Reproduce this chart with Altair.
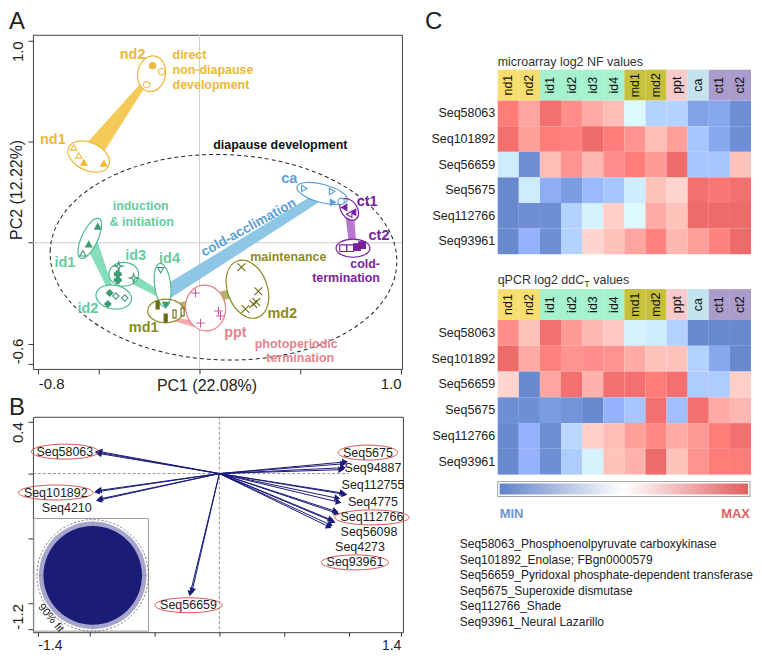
import math
import altair as alt
import pandas as pd

FONT = "Liberation Sans"
INK = "#222222"

# ======================= Panel A : PCA of samples =======================
A_W, A_H = 370, 335
A_XDOM = [-0.827, 1.005]
A_YDOM = [-0.625, 1.030]
PX_A = A_W / (A_XDOM[1] - A_XDOM[0])

fam_of = {"nd1": "nd", "nd2": "nd", "id1": "id", "id2": "id", "id3": "id", "id4": "id",
          "md1": "md", "md2": "md", "ppt": "ppt", "ca": "ca", "ct1": "ct", "ct2": "ct"}
FAM_TEXT = {"nd": "#EDB838", "id": "#66CC9E", "md": "#8C8C22", "ppt": "#E8838C", "ca": "#5A9FD4", "ct": "#7A1FA0", "all": "#111111"}
FAM_LINE = {"nd": "#EDB838", "id": "#4DBB8F", "md": "#8A8A1F", "ppt": "#E57F88", "ca": "#5A9FD4", "ct": "#7A1FA0"}
FAM_BAND = {"nd": "#F4CB58", "id": "#86DDB9", "md": "#B4B26C", "ppt": "#F2AAB0", "ca": "#8EC7E6", "ct": "#B678CE"}
FAM_MARK = {"nd": "#EDB838", "id": "#3E9A73", "md": "#6B6B12", "ppt": "#C2609C", "ca": "#5A9FD4", "ct": "#7A1FA0"}

# replicate samples
pt_group = (["nd2"] * 3 + ["nd1"] * 4 + ["id1"] * 3 + ["id2"] * 4 + ["id3"] * 4 + ["id4"] * 2 +
            ["md1"] * 4 + ["ppt"] * 4 + ["md2"] * 5 + ["ca"] * 4 + ["ct1"] * 3 + ["ct2"] * 4)
pt_marker = (["circle"] * 3 + ["tri-up"] * 4 + ["tri-up"] * 3 + ["diamond"] * 4 +
             ["star", "star", "cross", "cross"] + ["tri-down"] * 2 + ["bar"] * 4 + ["plus"] * 4 +
             ["x"] * 5 + ["tri-right"] * 3 + ["circle"] + ["tri-left"] * 3 + ["square"] * 4)
pt_filled = [1, 0, 0, 0, 0, 1, 1, 1, 1, 0, 1, 1, 0, 0, 0, 0, 1, 1, 0, 1,
             1, 1, 0, 0, 1, 1, 1, 1, 1, 1, 1, 1, 1, 0, 0, 1, 0, 1, 1, 0, 0, 0, 1, 1]
pt_pc1 = [-0.233, -0.188, -0.262, -0.624, -0.599, -0.574, -0.475, -0.505, -0.550, -0.579,
          -0.446, -0.455, -0.416, -0.371, -0.401, -0.327, -0.406, -0.406, -0.193, -0.168,
          -0.208, -0.168, -0.124, -0.084, -0.020, 0.094, 0.104, 0.005,
          0.208, 0.292, 0.228, 0.267, 0.282, 0.520, 0.658, 0.663, 0.703,
          0.718, 0.762, 0.743, 0.713, 0.748, 0.782, 0.807]
pt_pc2 = [0.877, 0.847, 0.783, 0.472, 0.432, 0.398, 0.393, 0.081, -0.007, -0.052,
          -0.249, -0.304, -0.264, -0.274, -0.116, -0.175, -0.156, -0.185, -0.136, -0.309,
          -0.309, -0.373, -0.353, -0.343, -0.249, -0.338, -0.363, -0.398,
          -0.121, -0.240, -0.328, -0.304, -0.294, 0.269, 0.254, 0.200, 0.205,
          0.175, 0.151, 0.141, -0.027, -0.027, -0.022, -0.012]

# confidence ellipses of each stage (centre, semi-axes in PC units, rotation)
ell_group = ["nd2", "nd1", "id1", "id2", "id3", "id4", "md1", "ppt", "md2", "ca", "ct1", "ct2"]
ell_pc1 = [-0.238, -0.550, -0.545, -0.426, -0.376, -0.183, -0.168, 0.030, 0.238, 0.609, 0.743, 0.762]
ell_pc2 = [0.837, 0.427, 0.022, -0.269, -0.156, -0.210, -0.338, -0.323, -0.230, 0.244, 0.165, -0.027]
ell_a = [0.089, 0.109, 0.109, 0.089, 0.074, 0.109, 0.089, 0.114, 0.149, 0.129, 0.059, 0.084]
ell_b = [0.069, 0.069, 0.040, 0.059, 0.059, 0.040, 0.059, 0.099, 0.099, 0.045, 0.040, 0.045]
ell_angle = [280, 25, 295, 10, 0, 83, 0, 80, 70, 15, 55, 0]

# diapause development envelope
dia_pc1, dia_pc2, dia_a, dia_b, dia_angle = 0.119, -0.072, 0.861, 0.510, 2

# trajectories between stages
band_fam = ["nd", "id", "id", "ca", "md", "ppt", "ct"]
band_x0 = [-0.550, -0.545, -0.376, -0.170, -0.168, -0.130, 0.743]
band_y0 = [0.427, 0.022, -0.156, -0.250, -0.338, -0.380, 0.165]
band_x1 = [-0.238, -0.426, -0.190, 0.600, 0.238, 0.020, 0.762]
band_y1 = [0.837, -0.269, -0.260, 0.232, -0.230, -0.410, -0.027]
band_w0 = [21, 13, 10, 14, 9, 3, 9]
band_w1 = [3, 4, 6, 9, 9, 8, 7]

# text annotations (label, pc1, pc2, family, font size, alignment)
lab_text = ["nd2", "nd1", "diapause development", "induction", "& initiation", "id1", "id2", "id3", "id4",
            "md1", "ppt", "photoperiodic", "termination", "md2", "maintenance", "ca", "ct1", "ct2",
            "direct", "non-diapause", "development", "cold-", "termination"]
lab_pc1 = [-0.332, -0.728, 0.401, -0.292, -0.287, -0.668, -0.554, -0.317, -0.149,
           -0.277, 0.178, 0.480, 0.500, 0.411, 0.441, 0.446, 0.832, 0.891,
           -0.134, -0.134, -0.134, 0.896, 0.896]
lab_pc2 = [0.931, 0.511, 0.486, 0.180, 0.101, -0.101, -0.328, -0.067, -0.081,
           -0.422, -0.447, -0.501, -0.570, -0.353, -0.072, 0.314, 0.200, 0.032,
           0.931, 0.857, 0.783, -0.106, -0.175]
lab_fam = ["nd", "nd", "all", "id", "id", "id", "id", "id", "id",
           "md", "ppt", "ppt", "ppt", "md", "md", "ca", "ct", "ct",
           "nd", "nd", "nd", "ct", "ct"]
lab_big = [1, 1, 0, 0, 0, 1, 1, 1, 1, 1, 1, 0, 0, 1, 0, 1, 1, 1, 0, 0, 0, 0, 0]
lab_align = ["center"] * 18 + ["left"] * 3 + ["right"] * 2
rot_text, rot_pc1, rot_pc2, rot_angle = "cold-acclimation", 0.243, 0.075, 331

SHAPE = {
    "circle": "circle", "tri-up": "triangle-up", "tri-down": "triangle-down",
    "tri-left": "triangle-left", "tri-right": "triangle-right", "diamond": "diamond",
    "square": "square", "cross": "cross",
    "star": "M0,-1L0.22,-0.22L1,0L0.22,0.22L0,1L-0.22,0.22L-1,0L-0.22,-0.22Z",
    "bar": "M-0.4,-1L0.4,-1L0.4,1L-0.4,1Z",
    "plus": "M-1,0L1,0M0,-1L0,1",
    "x": "M-1,-1L1,1M-1,1L1,-1",
}
MSIZE = {"circle": 42, "tri-up": 40, "tri-down": 40, "tri-left": 40, "tri-right": 40,
         "diamond": 42, "square": 45, "cross": 45, "star": 75, "bar": 60, "plus": 75, "x": 60}


def ell_path(ratio):
    return f"M-1,0A1,{ratio:.3f},0,1,1,1,0A1,{ratio:.3f},0,1,1,-1,0Z"


pts = pd.DataFrame({
    "pc1": pt_pc1, "pc2": pt_pc2,
    "shape": [SHAPE[m] for m in pt_marker],
    "size": [MSIZE[m] for m in pt_marker],
    "stroke": [FAM_MARK[fam_of[g]] for g in pt_group],
    "fill": [FAM_MARK[fam_of[g]] if f else "white" for g, f in zip(pt_group, pt_filled)],
})
ells = pd.DataFrame({
    "pc1": ell_pc1, "pc2": ell_pc2,
    "shape": [ell_path(b / a) for a, b in zip(ell_a, ell_b)],
    "size": [(2 * a * PX_A) ** 2 for a in ell_a],
    "angle": ell_angle,
    "col": [FAM_LINE[fam_of[g]] for g in ell_group],
})
dia = pd.DataFrame({"pc1": [dia_pc1], "pc2": [dia_pc2], "shape": [ell_path(dia_b / dia_a)],
                    "size": [(2 * dia_a * PX_A) ** 2], "angle": [dia_angle]})
band_rows = []
for i, f in enumerate(band_fam):
    band_rows.append({"band": i, "o": 0, "pc1": band_x0[i], "pc2": band_y0[i], "w": band_w0[i], "col": FAM_BAND[f]})
    band_rows.append({"band": i, "o": 1, "pc1": band_x1[i], "pc2": band_y1[i], "w": band_w1[i], "col": FAM_BAND[f]})
bands = pd.DataFrame(band_rows)
labs = pd.DataFrame({"t": lab_text, "pc1": lab_pc1, "pc2": lab_pc2,
                     "col": [FAM_TEXT[f] for f in lab_fam],
                     "fs": [14.5 if b else 12.5 for b in lab_big], "al": lab_align})

XA_axis = alt.Axis(values=[-0.8, -0.5, 0, 0.5, 1.0],
                   labelExpr="datum.value == -0.8 ? '-0.8' : (datum.value == 1 ? '1.0' : '')",
                   labelAlign={"condition": {"test": "datum.value < 0", "value": "left"}, "value": "right"},
                   labelFlush=False, labelFontSize=15, labelColor=INK, labelPadding=3,
                   tickSize=5, tickColor="#333333", domain=False, grid=False,
                   title="PC1 (22.08%)", titleFontSize=16, titleFontWeight="normal", titleColor=INK,
                   titleX=174, titleY=22, titleBaseline="alphabetic", titleAlign="center")
YA_axis = alt.Axis(values=[1.0, 0.5, 0, -0.5, -0.6],
                   labelExpr="datum.value == 1 ? '1.0' : (datum.value == -0.6 ? '-0.6' : '')",
                   labelAngle=270,
                   labelAlign={"condition": {"test": "datum.value > 0", "value": "right"}, "value": "left"},
                   labelBaseline="bottom", labelFlush=False, labelFontSize=15, labelColor=INK, labelPadding=2,
                   tickSize=5, tickColor="#333333", domain=False, grid=False,
                   title="PC2 (12.22%)", titleAngle=270, titleX=-16, titleY=155,
                   titleAlign="center", titleBaseline="middle", titleFontSize=16,
                   titleFontWeight="normal", titleColor=INK)
XA = alt.X("pc1:Q", scale=alt.Scale(domain=A_XDOM, nice=False, zero=False), axis=XA_axis)
YA = alt.Y("pc2:Q", scale=alt.Scale(domain=A_YDOM, nice=False, zero=False), axis=YA_axis)

one = pd.DataFrame({"pc1": [0.0], "pc2": [0.0]})
a_gridv = alt.Chart(one).mark_rule(color="#CFCFCF", strokeWidth=1).encode(x=XA)
a_gridh = alt.Chart(one).mark_rule(color="#CFCFCF", strokeWidth=1).encode(y=YA)
a_dia = alt.Chart(dia).mark_point(filled=False, opacity=1, stroke=INK, strokeWidth=1, strokeDash=[4, 3]).encode(
    x=XA, y=YA, shape=alt.Shape("shape:N", scale=None), size=alt.Size("size:Q", scale=None),
    angle=alt.Angle("angle:Q", scale=None))
a_bands = alt.Chart(bands).mark_trail(opacity=1).encode(
    x=XA, y=YA, size=alt.Size("w:Q", scale=None), fill=alt.Fill("col:N", scale=None),
    detail="band:N", order="o:Q")
a_ellfill = alt.Chart(ells).mark_point(filled=True, opacity=1, color="white").encode(
    x=XA, y=YA, shape=alt.Shape("shape:N", scale=None), size=alt.Size("size:Q", scale=None),
    angle=alt.Angle("angle:Q", scale=None))
a_elline = alt.Chart(ells).mark_point(filled=False, opacity=1, strokeWidth=1.2).encode(
    x=XA, y=YA, shape=alt.Shape("shape:N", scale=None), size=alt.Size("size:Q", scale=None),
    angle=alt.Angle("angle:Q", scale=None), stroke=alt.Stroke("col:N", scale=None))
a_pts = alt.Chart(pts).mark_point(opacity=1, strokeWidth=1.1).encode(
    x=XA, y=YA, shape=alt.Shape("shape:N", scale=None), size=alt.Size("size:Q", scale=None),
    fill=alt.Fill("fill:N", scale=None), stroke=alt.Stroke("stroke:N", scale=None))
a_text = []
for al in ["center", "left", "right"]:
    a_text.append(alt.Chart(labs[labs["al"] == al]).mark_text(fontWeight="bold", align=al, baseline="middle").encode(
        x=XA, y=YA, text="t:N", fill=alt.Fill("col:N", scale=None), size=alt.Size("fs:Q", scale=None)))
a_rot = alt.Chart(pd.DataFrame({"pc1": [rot_pc1], "pc2": [rot_pc2], "t": [rot_text]})).mark_text(
    fontWeight="bold", fontSize=13.5, angle=rot_angle, color=FAM_TEXT["ca"]).encode(x=XA, y=YA, text="t:N")
a_letter = alt.Chart(one).mark_text(text="A", fontSize=24, align="left", baseline="alphabetic", color=INK).encode(
    x=alt.value(-24), y=alt.value(-6))

panelA = alt.layer(a_gridv, a_gridh, a_dia, a_bands, a_ellfill, a_elline, a_pts, *a_text, a_rot, a_letter).properties(
    width=A_W, height=A_H, view=alt.ViewBackground(stroke="#444444", strokeWidth=1))

# ======================= Panel B : gene loadings biplot =======================
B_W, B_H = 371, 216
B_XDOM = [-1.438, 1.416]
B_YDOM = [-1.223, 0.438]
PX_B = B_W / (B_XDOM[1] - B_XDOM[0])
NAVY = "#1B1B78"

arrow_gene = ["Seq58063"] * 3 + ["Seq101892"] * 2 + ["Seq4210"] * 2 + ["Seq56659"] * 2 + ["Seq5675"] * 2 + \
             ["Seq94887"] * 2 + ["Seq112755"] * 2 + ["Seq4775"] * 2 + ["Seq112766"] * 2 + ["Seq56098"] * 2 + \
             ["Seq4273", "Seq93961"]
arrow_x = [-0.940, -0.930, -0.925, -0.945, -0.930, -0.930, -0.920, -0.225, -0.210, 0.970, 0.955,
           0.955, 0.940, 0.965, 0.950, 0.920, 0.910, 0.905, 0.895, 0.875, 0.860, 0.845, 0.855]
arrow_y = [0.165, 0.155, 0.170, -0.140, -0.130, -0.205, -0.195, -0.925, -0.905, 0.090, 0.075,
           0.045, 0.030, -0.160, -0.150, -0.220, -0.190, -0.305, -0.290, -0.370, -0.355, -0.410, -0.395]

gene_lab = ["Seq58063", "Seq101892", "Seq4210", "Seq56659", "Seq5675", "Seq94887", "Seq112755",
            "Seq4775", "Seq112766", "Seq56098", "Seq4273", "Seq93961"]
gene_lx = [-1.192, -1.262, -1.177, -0.238, 1.146, 1.185, 1.185, 1.185, 1.177, 1.154, 1.085, 1.046]
gene_ly = [0.169, -0.146, -0.269, -1.015, 0.162, 0.046, -0.092, -0.223, -0.338, -0.454, -0.569, -0.685]
gene_circled = [1, 1, 0, 1, 1, 0, 0, 0, 1, 0, 0, 1]

inset_x = [-1.431, -0.546]
inset_y = [-1.215, -0.346]
disk_x, disk_y, disk_r = -0.977, -0.785, 0.38

arrows = pd.DataFrame({"x0": 0.0, "y0": 0.0, "bx": arrow_x, "by": arrow_y})
arrows["ang"] = [(math.degrees(math.atan2(-y, x)) + 360) % 360 for x, y in zip(arrow_x, arrow_y)]
glabs = pd.DataFrame({"bx": gene_lx, "by": gene_ly, "t": gene_lab, "c": gene_circled})
circ = glabs[glabs["c"] == 1].copy()
circ["rx"] = [3.7 * len(t) + 4 for t in circ["t"]]
circ["shape"] = [ell_path(7.5 / r) for r in circ["rx"]]
circ["size"] = [(2 * r) ** 2 for r in circ["rx"]]

XB_axis = alt.Axis(values=[-1.4, -1, -0.5, 0, 0.5, 1, 1.4],
                   labelExpr="datum.value == -1.4 ? '-1.4' : (datum.value == 1.4 ? '1.4' : '')",
                   labelAlign={"condition": {"test": "datum.value < 0", "value": "left"}, "value": "right"},
                   labelFlush=False, labelFontSize=14, labelColor=INK, labelPadding=2,
                   tickSize=4, tickColor="#333333", domain=False, grid=False, title=None)
YB_axis = alt.Axis(values=[0.4, 0, -0.5, -1, -1.2],
                   labelExpr="datum.value == 0.4 ? '0.4' : (datum.value == -1.2 ? '-1.2' : '')",
                   labelAngle=270,
                   labelAlign={"condition": {"test": "datum.value > 0", "value": "right"}, "value": "left"},
                   labelBaseline="bottom", labelFlush=False, labelFontSize=15, labelColor=INK, labelPadding=2,
                   tickSize=5, tickColor="#333333", domain=False, grid=False, title=None)
XB_scale = alt.Scale(domain=B_XDOM, nice=False, zero=False)
YB_scale = alt.Scale(domain=B_YDOM, nice=False, zero=False)
XB = alt.X("bx:Q", scale=XB_scale, axis=XB_axis)
YB = alt.Y("by:Q", scale=YB_scale, axis=YB_axis)

zero_b = pd.DataFrame({"bx": [0.0], "by": [0.0], "bx2": [1.0], "bxs": [B_XDOM[0]]})
b_vline = alt.Chart(zero_b).mark_rule(color="#777777", strokeWidth=0.8, strokeDash=[3, 2]).encode(x=XB)
b_hline = alt.Chart(zero_b).mark_rule(color="#777777", strokeWidth=0.8, strokeDash=[3, 2]).encode(
    x=alt.X("bxs:Q", scale=XB_scale, axis=XB_axis), x2="bx2:Q", y=YB)
inset = pd.DataFrame({"bx": [inset_x[0]], "bx2": [inset_x[1]], "by": [inset_y[0]], "by2": [inset_y[1]],
                      "cx": [disk_x], "cy": [disk_y]})
b_inset = alt.Chart(inset).mark_rect(fill="white", stroke="#999999", strokeWidth=1).encode(
    x=XB, x2="bx2:Q", y=YB, y2="by2:Q")
b_cross_v = alt.Chart(inset).mark_rule(color="#D5D5D5", strokeWidth=0.8).encode(
    x=alt.X("cx:Q", scale=XB_scale, axis=XB_axis), y=YB, y2="by2:Q")
b_cross_h = alt.Chart(inset).mark_rule(color="#D5D5D5", strokeWidth=0.8).encode(
    y=alt.Y("cy:Q", scale=YB_scale, axis=YB_axis), x=XB, x2="bx2:Q")
disk = pd.DataFrame({"bx": [disk_x], "by": [disk_y]})
b_halo = alt.Chart(disk).mark_point(shape="circle", filled=True, opacity=0.45, color="#3A3A90",
                                    size=(2 * (disk_r + 0.035) * PX_B) ** 2).encode(x=XB, y=YB)
b_disk = alt.Chart(disk).mark_point(shape="circle", filled=True, opacity=1, color=NAVY,
                                    size=(2 * disk_r * PX_B) ** 2).encode(x=XB, y=YB)
b_ring = alt.Chart(disk).mark_point(shape="circle", filled=False, opacity=1, stroke="#555555", strokeWidth=0.8,
                                    strokeDash=[2, 2], size=(2 * (disk_r + 0.05) * PX_B) ** 2).encode(x=XB, y=YB)
b_fit = alt.Chart(pd.DataFrame({"bx": [-1.30], "by": [-1.115]})).mark_text(
    text="90% fit", fontSize=11, angle=50, color=INK).encode(x=XB, y=YB)
b_arrows = alt.Chart(arrows).mark_rule(color=NAVY, strokeWidth=1).encode(
    x=alt.X("x0:Q", scale=XB_scale, axis=XB_axis),
    y=alt.Y("y0:Q", scale=YB_scale, axis=YB_axis),
    x2="bx:Q", y2="by:Q")
b_heads = alt.Chart(arrows).mark_point(shape="triangle-right", filled=True, opacity=1, color=NAVY, size=45).encode(
    x=XB, y=YB, angle=alt.Angle("ang:Q", scale=None))
b_circ = alt.Chart(circ).mark_point(filled=False, opacity=1, stroke="#D9534F", strokeWidth=1).encode(
    x=XB, y=YB, shape=alt.Shape("shape:N", scale=None), size=alt.Size("size:Q", scale=None))
b_labs = alt.Chart(glabs).mark_text(fontSize=12.5, color=INK).encode(x=XB, y=YB, text="t:N")
b_letter = alt.Chart(zero_b).mark_text(text="B", fontSize=24, align="left", baseline="alphabetic", color=INK).encode(
    x=alt.value(-24), y=alt.value(-2))

panelB = alt.layer(b_vline, b_hline, b_inset, b_cross_v, b_cross_h, b_halo, b_disk, b_ring, b_fit,
                   b_arrows, b_heads, b_circ, b_labs, b_letter).properties(
    width=B_W, height=B_H, view=alt.ViewBackground(stroke="#444444", strokeWidth=1))

left = alt.vconcat(panelA, panelB, spacing=0)

# ======================= Panel C : heatmaps =======================
samples = ["nd1", "nd2", "id1", "id2", "id3", "id4", "md1", "md2", "ppt", "ca", "ct1", "ct2"]
sample_grp = ["nd", "nd", "id", "id", "id", "id", "md", "md", "ppt", "ca", "ct", "ct"]
HDR_COL = {"nd": "#F7DE6E", "id": "#A6F2CF", "md": "#C6C03C", "ppt": "#F6CACA", "ca": "#C3E3EE", "ct": "#AA9DCB"}
genes = ["Seq58063", "Seq101892", "Seq56659", "Seq5675", "Seq112766", "Seq93961"]

micro_58063 = [0.75, 0.40, 0.85, 0.60, 0.35, 0.20, -0.05, -0.35, -0.35, -0.75, -0.70, -0.90]
micro_101892 = [0.85, 0.45, 0.75, 0.70, 0.90, 0.75, 0.55, 0.20, 0.45, -0.45, -0.70, -0.90]
micro_56659 = [-0.15, -0.90, 0.20, 0.55, 0.25, 0.60, 0.75, 0.50, 0.90, -0.45, -0.45, 0.15]
micro_5675 = [-0.95, -0.15, -0.65, -0.80, -0.55, -0.45, -0.15, 0.15, 0.00, 0.85, 0.80, 0.85]
micro_112766 = [-0.95, -0.90, -0.90, -0.35, -0.10, 0.05, -0.05, 0.35, 0.15, 0.90, 0.90, 0.90]
micro_93961 = [-0.95, -0.60, -0.90, -0.35, 0.00, 0.15, 0.40, 0.70, 0.25, 0.45, 0.70, 0.90]

qpcr_58063 = [0.60, 0.15, 0.85, 0.50, 0.25, 0.10, -0.10, -0.15, -0.35, -0.95, -0.95, -0.95]
qpcr_101892 = [0.90, 0.35, 0.70, 0.55, 0.60, 0.55, 0.35, 0.15, 0.15, -0.35, -0.70, -0.95]
qpcr_56659 = [0.00, -0.95, 0.40, 0.85, 0.30, 0.85, 0.85, 0.75, 0.85, -0.40, -0.40, 0.05]
qpcr_5675 = [-0.90, -0.90, -0.80, -0.85, -0.95, -0.60, -0.45, 0.85, -0.50, 0.85, 0.35, 0.25]
qpcr_112766 = [-0.95, -0.60, -0.90, -0.30, 0.05, 0.20, 0.45, 0.65, 0.35, 0.50, 0.75, 0.85]
qpcr_93961 = [-0.95, -0.60, -0.90, -0.40, -0.10, 0.15, 0.30, 0.90, 0.15, 0.55, 0.75, 0.75]

micro_rows = [micro_58063, micro_101892, micro_56659, micro_5675, micro_112766, micro_93961]
qpcr_rows = [qpcr_58063, qpcr_101892, qpcr_56659, qpcr_5675, qpcr_112766, qpcr_93961]

gene_desc = ["Seq58063_Phosphoenolpyruvate carboxykinase",
             "Seq101892_Enolase; FBgn0000579",
             "Seq56659_Pyridoxal phosphate-dependent transferase",
             "Seq5675_Superoxide dismutase",
             "Seq112766_Shade",
             "Seq93961_Neural Lazarillo"]

HM_W = 254
BLUE, RED = "#6283C8", "#E05F5F"
HM_SCALE = alt.Scale(domain=[-1, 0, 1], range=[BLUE, "#FFFFFF", RED])
XS = alt.X("sample:N", sort=samples, scale=alt.Scale(paddingInner=0, paddingOuter=0), axis=None)
dummy = pd.DataFrame({"z": [0]})


def long_df(rows):
    recs = []
    for g, vals in zip(genes, rows):
        for s, v in zip(samples, vals):
            recs.append({"gene": g, "sample": s, "v": v})
    return pd.DataFrame(recs)


def cells(rows):
    return alt.Chart(long_df(rows)).mark_rect().encode(
        x=XS,
        y=alt.Y("gene:N", sort=genes, scale=alt.Scale(paddingInner=0, paddingOuter=0),
                axis=alt.Axis(title=None, ticks=False, domain=False, labelFontSize=12.5,
                              labelColor=INK, labelPadding=3)),
        color=alt.Color("v:Q", scale=HM_SCALE, legend=None))


hdr_df = pd.DataFrame({"sample": samples, "col": [HDR_COL[g] for g in sample_grp]})


def header():
    r = alt.Chart(hdr_df).mark_rect().encode(x=XS, fill=alt.Fill("col:N", scale=None))
    t = alt.Chart(hdr_df).mark_text(angle=270, fontSize=12.5, fontWeight=500, color="#111111").encode(
        x=XS, text="sample:N")
    return alt.layer(r, t).properties(width=HM_W, height=31)


def label(text, x, y, size=12.5, **kw):
    return alt.Chart(dummy).mark_text(text=text, align="left", baseline="alphabetic", fontSize=size,
                                      color="#333333", **kw).encode(x=alt.value(x), y=alt.value(y))


c_letter = alt.Chart(dummy).mark_text(text="C", fontSize=24, align="left", baseline="alphabetic", color=INK).encode(
    x=alt.value(-73), y=alt.value(-6))
spacer1 = alt.layer(c_letter, label("microarray log2 NF values", 0, 31)).properties(width=HM_W, height=35)
spacer2 = alt.layer(label("qPCR log2 dd", 0, 30), label("C", 77.7, 30, fontStyle="italic"),
                    label("T", 86.8, 32.5, size=9), label("values", 95.8, 30)).properties(width=HM_W, height=34)

cbar_frame = alt.Chart(dummy).mark_rect(fill="white", stroke="#A0A0A0", strokeWidth=1).encode(
    x=alt.value(0), x2=alt.value(HM_W - 1), y=alt.value(162), y2=alt.value(177))
cbar = alt.Chart(dummy).mark_rect(
    fill=alt.LinearGradient(gradient="linear", x1=0, x2=1, y1=0, y2=0,
                            stops=[alt.GradientStop(color=BLUE, offset=0),
                                   alt.GradientStop(color="#FFFFFF", offset=0.5),
                                   alt.GradientStop(color=RED, offset=1)])).encode(
    x=alt.value(2), x2=alt.value(HM_W - 3), y=alt.value(164), y2=alt.value(175))
mn = alt.Chart(dummy).mark_text(text="MIN", align="left", baseline="middle", fontSize=13, fontWeight="bold",
                                color="#6F92D2").encode(x=alt.value(2), y=alt.value(195))
mx = alt.Chart(dummy).mark_text(text="MAX", align="right", baseline="middle", fontSize=13, fontWeight="bold",
                                color="#E0605F").encode(x=alt.value(253), y=alt.value(195))
desc = alt.Chart(dummy).mark_text(text=gene_desc, align="left", baseline="alphabetic", fontSize=12,
                                  lineHeight=15.5, color=INK).encode(x=alt.value(-38), y=alt.value(229))
cells1 = cells(micro_rows).properties(width=HM_W, height=154)
cells2 = alt.layer(cells(qpcr_rows), cbar_frame, cbar, mn, mx, desc).properties(width=HM_W, height=155)

right = alt.vconcat(spacer1, header(), cells1, spacer2, header(), cells2, spacing=0)

chart = alt.hconcat(left, right, spacing=13).properties(padding=0).configure(
    font=FONT).configure_view(strokeWidth=0).configure_text(font=FONT).configure_axis(
    labelFont=FONT, titleFont=FONT)

chart.save("out.html", embed_options={"renderer": "svg", "actions": False})
